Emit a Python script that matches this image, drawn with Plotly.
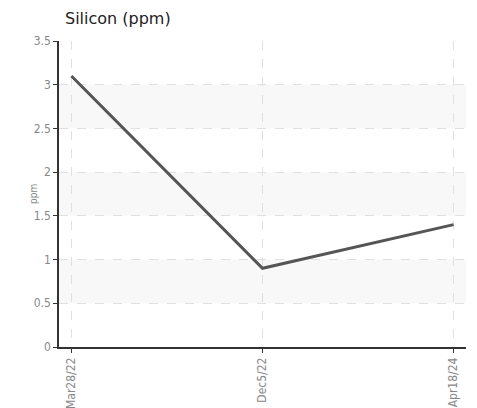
import plotly.graph_objects as go

dates = ["Mar28/22", "Dec5/22", "Apr18/24"]
silicon = [3.1, 0.9, 1.4]
y_ticks = [0, 0.5, 1, 1.5, 2, 2.5, 3, 3.5]
y_tick_labels = ["0", "0.5", "1", "1.5", "2", "2.5", "3", "3.5"]
bands = [(0.5, 1), (1.5, 2), (2.5, 3)]

tick_font = dict(family="DejaVu Sans Condensed, Roboto, sans-serif", size=12, color="#888888")

fig = go.Figure()
fig.add_trace(go.Scatter(x=dates, y=silicon, mode="lines",
                         line=dict(color="#555555", width=3), hoverinfo="skip"))

for lo, hi in bands:
    fig.add_shape(type="rect", xref="paper", yref="y", x0=0, x1=1, y0=lo, y1=hi,
                  fillcolor="#f8f8f8", line=dict(width=0), layer="below")

fig.add_annotation(text="ppm", xref="paper", yref="paper", x=-26 / 407, y=0.5,
                   xanchor="center", yanchor="middle", textangle=-90, showarrow=False,
                   font=dict(family="DejaVu Sans Condensed, Roboto, sans-serif", size=10, color="#888888"))

fig.update_layout(
    width=477, height=408,
    margin=dict(l=59, r=11, t=41, b=61),
    paper_bgcolor="white", plot_bgcolor="white",
    showlegend=False,
    title=dict(text="Silicon (ppm)", x=65 / 477, xanchor="left", y=1 - 18 / 408, yanchor="middle",
               font=dict(family="DejaVu Sans", size=16, color="#222222")),
    xaxis=dict(type="category", range=[-0.065, 2.065], automargin=False,
               showgrid=True, gridcolor="#e0e0e0", griddash="dash", gridwidth=1,
               showline=True, linecolor="#333333", linewidth=1.5,
               ticks="outside", ticklen=4, tickcolor="#333333",
               tickangle=-90, tickfont=tick_font,
               zeroline=False, fixedrange=True),
    yaxis=dict(range=[0, 3.5], tickvals=y_ticks, ticktext=y_tick_labels, automargin=False,
               showgrid=True, gridcolor="#e0e0e0", griddash="dash", gridwidth=1,
               showline=True, linecolor="#333333", linewidth=1.5,
               ticks="outside", ticklen=4, tickcolor="#333333",
               tickfont=tick_font,
               zeroline=False, fixedrange=True),
)

fig.write_html("out.html", config={"displayModeBar": False},
               post_script="document.body.style.margin='0';")
